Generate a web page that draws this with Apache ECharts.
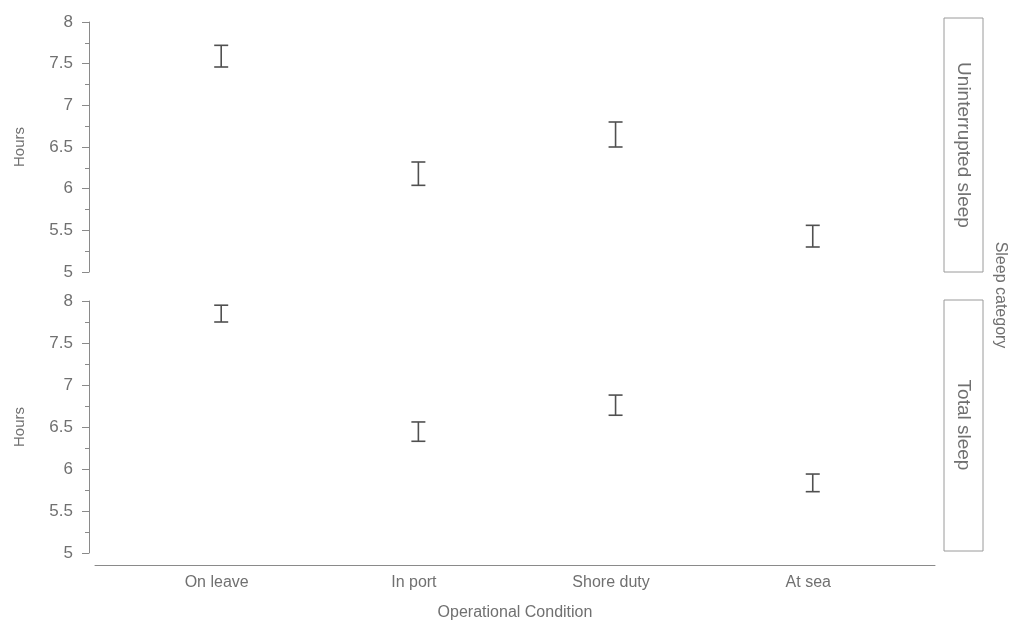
<!DOCTYPE html>
<html>
<head>
<meta charset="utf-8">
<script src="https://cdn.jsdelivr.net/npm/echarts@6/dist/echarts.min.js"></script>
<style>
  html, body { margin: 0; padding: 0; background: #fff; }
  #chart { width: 1011px; height: 626px; }
</style>
</head>
<body>
<div id="chart"></div>
<script>
// Operational conditions along the x axis
const categories = ['On leave', 'In port', 'Shore duty', 'At sea'];
// Interval ends (hours) for each condition
const uninterruptedLow  = [7.46, 6.04, 6.50, 5.30];
const uninterruptedHigh = [7.72, 6.32, 6.80, 5.56];
const totalLow  = [7.75, 6.33, 6.64, 5.73];
const totalHigh = [7.95, 6.56, 6.88, 5.94];
// Facet strip labels
const panels = ['Uninterrupted sleep', 'Total sleep'];
const yTicks = [5, 5.5, 6, 6.5, 7, 7.5, 8];

const textColor = '#707070';
const lineColor = '#8a8a8a';
const font = '"Liberation Sans", Arial, sans-serif';

function toRows(lo, hi) {
  return categories.map((c, i) => [i, lo[i], hi[i]]);
}

function renderBar(params, api) {
  const x = api.value(0);
  const pLo = api.coord([x, api.value(1)]);
  const pHi = api.coord([x, api.value(2)]);
  const hw = 7;
  const style = { stroke: '#505050', lineWidth: 1.6 };
  return {
    type: 'group',
    children: [
      { type: 'line', shape: { x1: pHi[0], y1: pHi[1], x2: pLo[0], y2: pLo[1] }, style },
      { type: 'line', shape: { x1: pHi[0] - hw, y1: pHi[1], x2: pHi[0] + hw, y2: pHi[1] }, style },
      { type: 'line', shape: { x1: pLo[0] - hw, y1: pLo[1], x2: pLo[0] + hw, y2: pLo[1] }, style }
    ]
  };
}

const xMin = -0.64, xMax = 3.62;

function yAxis(gridIndex) {
  return {
    type: 'value', gridIndex, min: 5, max: 8, interval: 0.5,
    offset: 6,
    name: 'Hours', nameLocation: 'middle', nameRotate: 90, nameGap: 62,
    nameTextStyle: { color: textColor, fontSize: 15, fontFamily: font },
    axisLine: { show: true, onZero: false, lineStyle: { color: lineColor, width: 1 } },
    axisTick: { show: true, length: 7, lineStyle: { color: lineColor } },
    minorTick: { show: true, splitNumber: 2, length: 4, lineStyle: { color: lineColor } },
    splitLine: { show: false },
    axisLabel: { color: textColor, fontSize: 17, fontFamily: font, margin: 16,
      customValues: yTicks }
  };
}

const option = {
  backgroundColor: '#ffffff',
  animation: false,
  grid: [
    { left: 95, right: 76, top: 22, height: 250 },
    { left: 95, right: 76, top: 301, height: 252 }
  ],
  xAxis: [
    { type: 'value', gridIndex: 0, min: xMin, max: xMax, show: false },
    {
      type: 'value', gridIndex: 1, min: xMin, max: xMax, offset: 12,
      name: 'Operational Condition', nameLocation: 'middle', nameGap: 40,
      nameTextStyle: { color: textColor, fontSize: 16, fontFamily: font },
      axisLine: { show: true, onZero: false, lineStyle: { color: lineColor, width: 1 } },
      axisTick: { show: false },
      splitLine: { show: false },
      axisLabel: {
        color: textColor, fontSize: 16, fontFamily: font, margin: 10,
        padding: [0, 9, 0, 0],
        customValues: [0, 1, 2, 3],
        formatter: v => categories[Math.round(v)]
      }
    }
  ],
  yAxis: [yAxis(0), yAxis(1)],
  series: [
    { type: 'custom', name: panels[0], xAxisIndex: 0, yAxisIndex: 0,
      renderItem: renderBar, data: toRows(uninterruptedLow, uninterruptedHigh),
      encode: { x: 0, y: [1, 2] } },
    { type: 'custom', name: panels[1], xAxisIndex: 1, yAxisIndex: 1,
      renderItem: renderBar, data: toRows(totalLow, totalHigh),
      encode: { x: 0, y: [1, 2] } }
  ],
  graphic: [
    { type: 'rect', shape: { x: 944, y: 18, width: 39, height: 254 },
      style: { fill: '#fff', stroke: '#9a9a9a', lineWidth: 1 } },
    { type: 'rect', shape: { x: 944, y: 300, width: 39, height: 251 },
      style: { fill: '#fff', stroke: '#9a9a9a', lineWidth: 1 } },
    { type: 'text', x: 963, y: 145, rotation: -Math.PI / 2,
      style: { text: panels[0], fill: textColor, font: '19px ' + font, align: 'center', verticalAlign: 'middle' } },
    { type: 'text', x: 963, y: 425, rotation: -Math.PI / 2,
      style: { text: panels[1], fill: textColor, font: '19px ' + font, align: 'center', verticalAlign: 'middle' } },
    { type: 'text', x: 1000, y: 295, rotation: -Math.PI / 2,
      style: { text: 'Sleep category', fill: textColor, font: '16px ' + font, align: 'center', verticalAlign: 'middle' } }
  ]
};

const chart = echarts.init(document.getElementById('chart'), null, { renderer: 'canvas' });
chart.setOption(option);
</script>
</body>
</html>
